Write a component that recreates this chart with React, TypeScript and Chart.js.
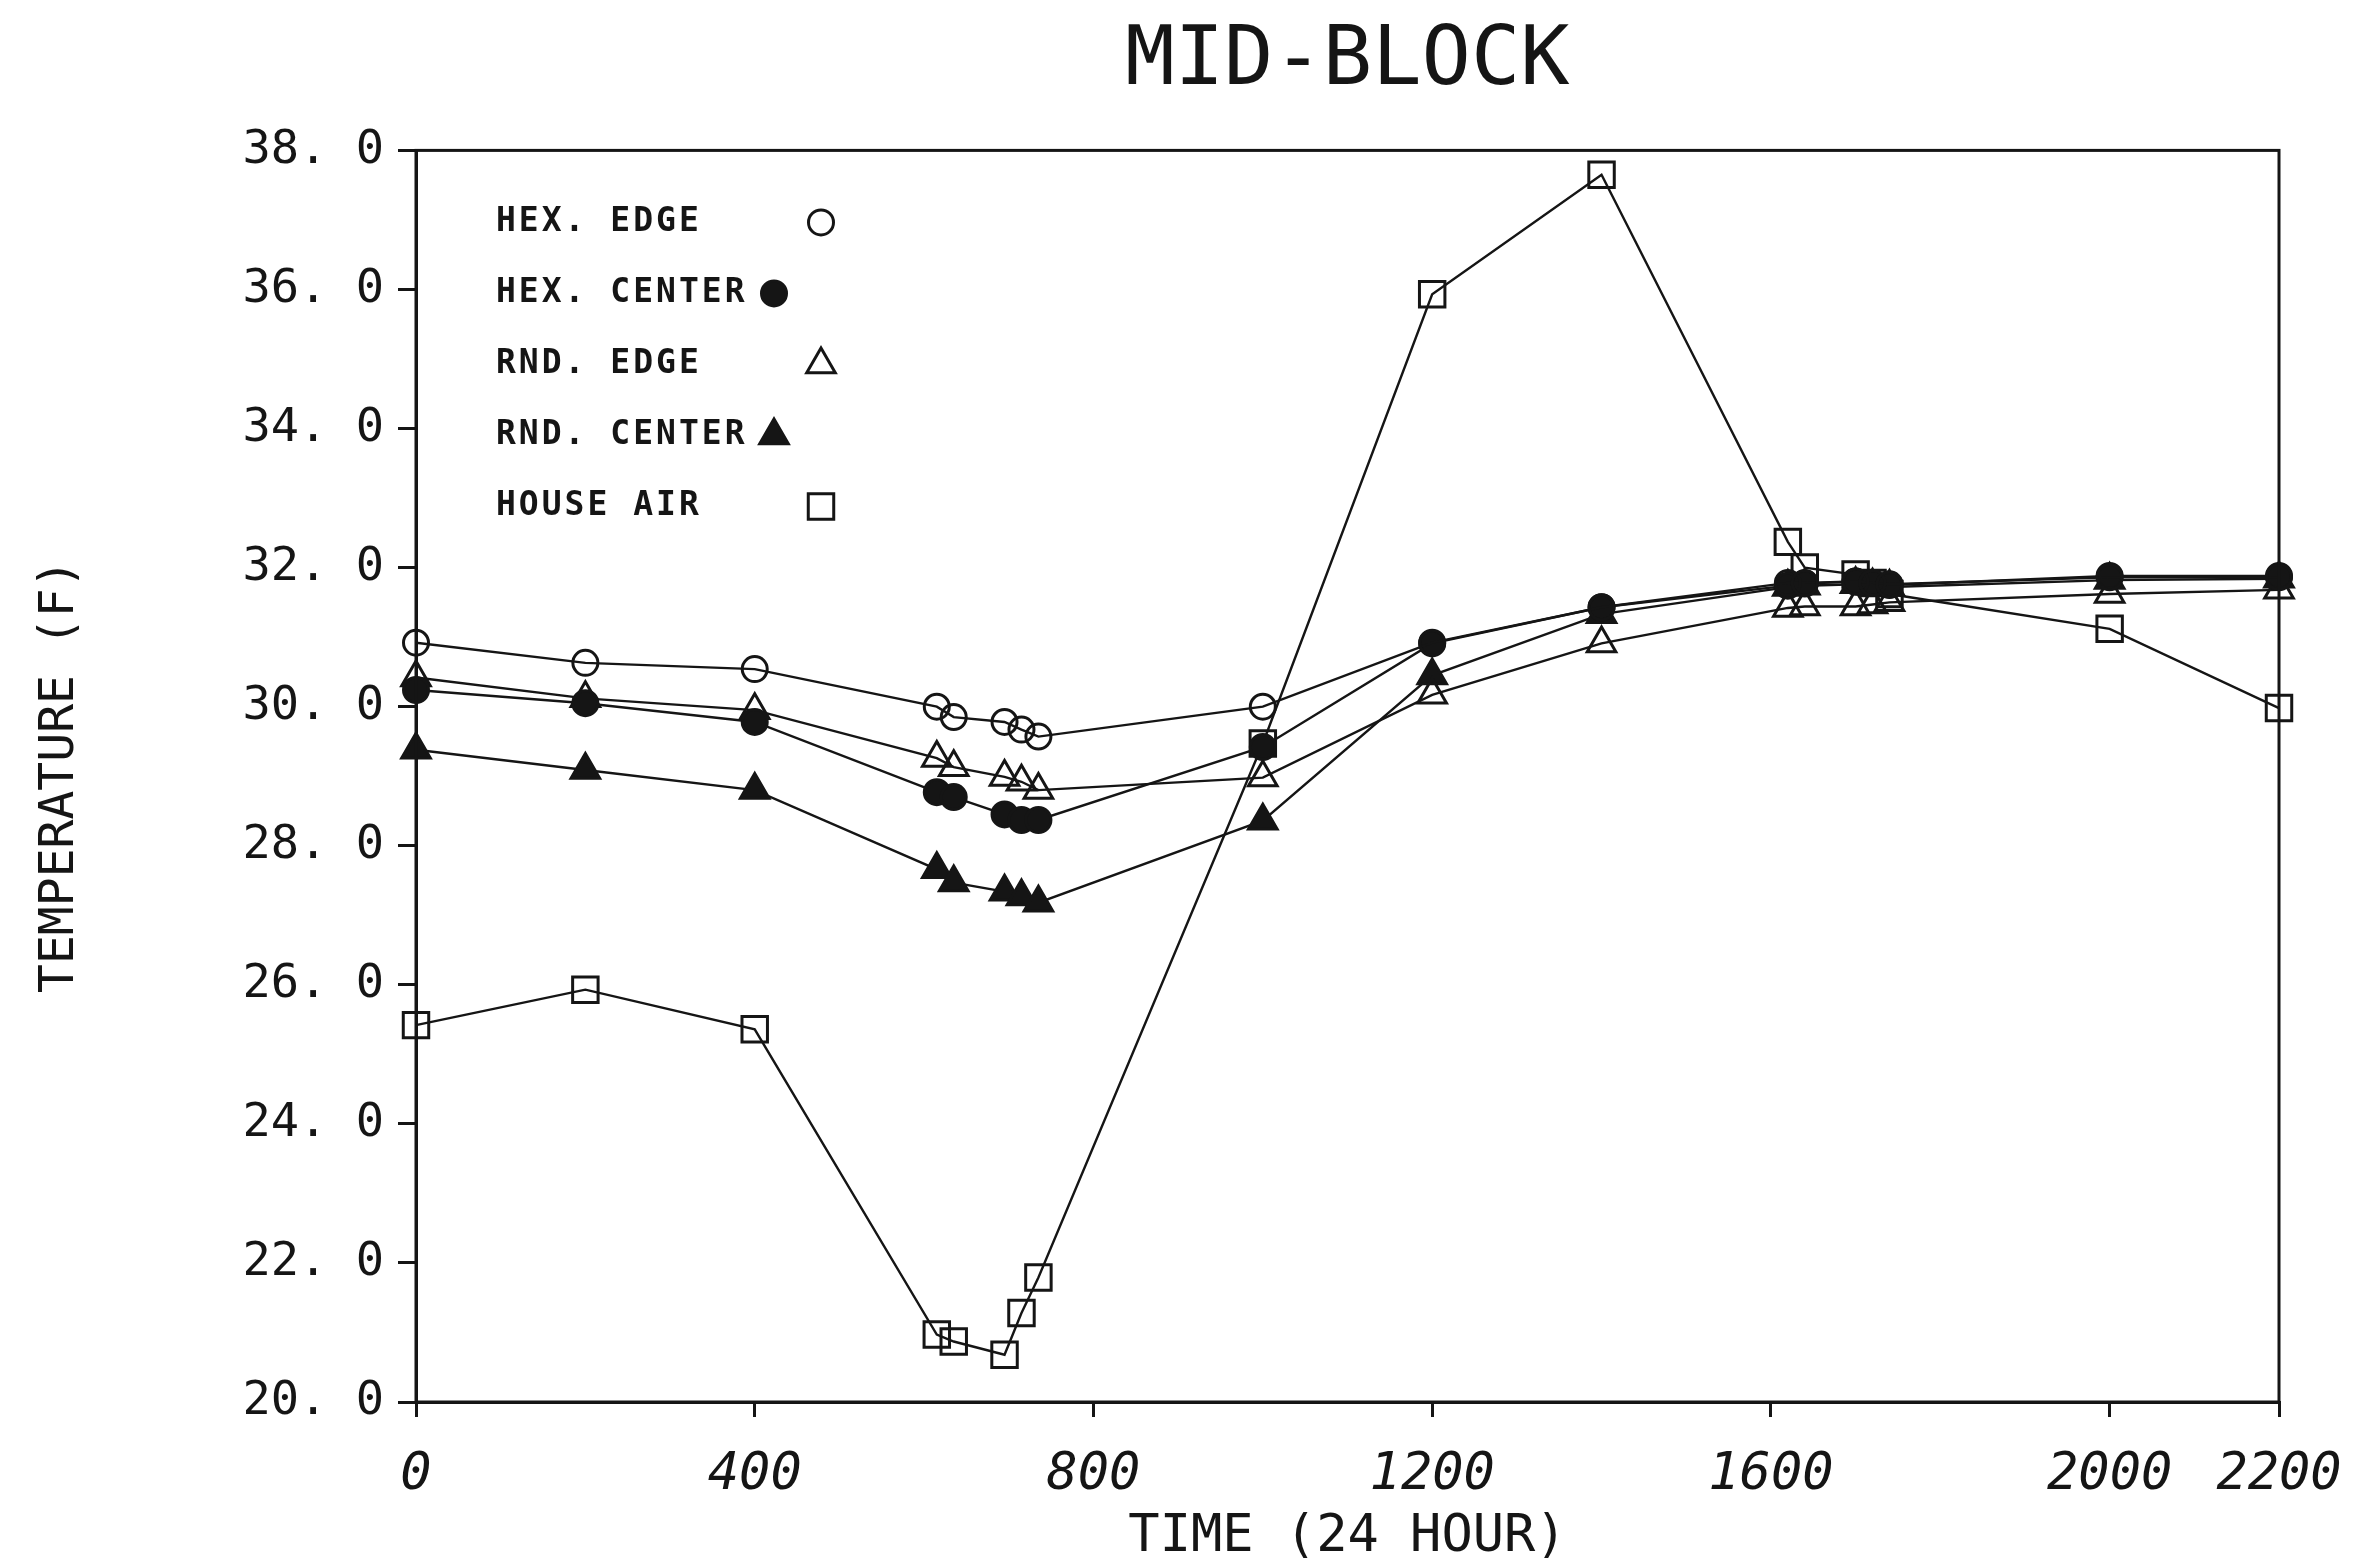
import React, { useEffect, useRef } from 'react';
import { Chart, registerables } from 'chart.js';
Chart.register(...registerables);

// ---- data ----
const times = [0, 200, 400, 615, 635, 695, 715, 735, 1000, 1200, 1400, 1620, 1640, 1700, 1720, 1740, 2000, 2200];
const hexEdge = [30.92, 30.63, 30.54, 30.0, 29.85, 29.78, 29.67, 29.57, 30.0, 30.92, 31.43, 31.78, 31.78, 31.8, 31.78, 31.76, 31.86, 31.86];
const hexCenter = [30.24, 30.05, 29.78, 28.77, 28.7, 28.45, 28.37, 28.37, 29.42, 30.91, 31.43, 31.74, 31.77, 31.8, 31.78, 31.75, 31.88, 31.88];
const rndEdge = [30.42, 30.12, 29.95, 29.26, 29.13, 28.99, 28.92, 28.8, 28.98, 30.17, 30.91, 31.42, 31.44, 31.44, 31.47, 31.5, 31.62, 31.68];
const rndCenter = [29.38, 29.09, 28.8, 27.66, 27.47, 27.34, 27.27, 27.18, 28.36, 30.45, 31.33, 31.72, 31.74, 31.76, 31.74, 31.72, 31.82, 31.84];
const houseAir = [25.42, 25.93, 25.36, 20.97, 20.87, 20.68, 21.28, 21.79, 29.47, 35.93, 37.65, 32.37, 32.0, 31.9, 31.78, 31.62, 31.12, 29.98];

const seriesLabels = ['HEX. EDGE', 'HEX. CENTER', 'RND. EDGE', 'RND. CENTER', 'HOUSE AIR'];
const xTickValues = [0, 400, 800, 1200, 1600, 2000, 2200];
const yMin = 20;
const yMax = 38;
const yStep = 2;
const titleText = 'MID-BLOCK';
const xTitle = 'TIME (24 HOUR)';
const yTitle = 'TEMPERATURE (F)';

const INK = '#151515';
const MONO = '"DejaVu Sans Mono", monospace';

type Marker = { style: 'circle' | 'triangle' | 'rect'; filled: boolean; r: number };
const markers: Marker[] = [
  { style: 'circle', filled: false, r: 12.5 },
  { style: 'circle', filled: true, r: 12.5 },
  { style: 'triangle', filled: false, r: 16.5 },
  { style: 'triangle', filled: true, r: 16.5 },
  { style: 'rect', filled: false, r: 18 },
];
const seriesValues = [hexEdge, hexCenter, rndEdge, rndCenter, houseAir];

function drawMarker(ctx: CanvasRenderingContext2D, m: Marker, x: number, y: number) {
  ctx.save();
  ctx.beginPath();
  if (m.style === 'circle') {
    ctx.arc(x, y, m.r, 0, Math.PI * 2);
  } else if (m.style === 'triangle') {
    for (let k = 0; k < 3; k++) {
      const a = (k * 2 * Math.PI) / 3;
      const px = x + Math.sin(a) * m.r;
      const py = y - Math.cos(a) * m.r;
      if (k === 0) ctx.moveTo(px, py);
      else ctx.lineTo(px, py);
    }
    ctx.closePath();
  } else {
    const s = m.r * Math.SQRT1_2;
    ctx.rect(x - s, y - s, 2 * s, 2 * s);
  }
  ctx.lineWidth = 3;
  ctx.strokeStyle = INK;
  if (m.filled) {
    ctx.fillStyle = INK;
    ctx.fill();
  }
  ctx.stroke();
  ctx.restore();
}

const framePlugin = {
  id: 'frameAndLegend',
  afterDraw(chart: any) {
    const { ctx, chartArea } = chart;
    const { left, top, right, bottom } = chartArea;
    ctx.save();
    ctx.strokeStyle = INK;
    ctx.lineWidth = 3;
    ctx.strokeRect(left, top, right - left, bottom - top);

    // legend inside plot
    ctx.font = `bold 33px ${MONO}`;
    (ctx as any).letterSpacing = '3px';
    ctx.fillStyle = INK;
    ctx.textBaseline = 'middle';
    ctx.textAlign = 'left';
    for (let i = 0; i < seriesLabels.length; i++) {
      const rowY = top + 72 + i * 71;
      ctx.fillText(seriesLabels[i], left + 80, rowY);
      const m = markers[i];
      const mx = m.filled ? left + 358 : left + 405;
      drawMarker(ctx, m, mx, rowY);
    }
    ctx.restore();
  },
};

export default function App() {
  const ref = useRef<HTMLCanvasElement>(null);

  useEffect(() => {
    document.body.style.margin = '0';
    const canvas = ref.current;
    if (!canvas) return;

    const datasets = seriesLabels.map((label, i) => ({
      label,
      data: times.map((t, j) => ({ x: t, y: seriesValues[i][j] })),
      borderColor: INK,
      borderWidth: 2.4,
      tension: 0,
      fill: false,
      clip: false as any,
      pointStyle: markers[i].style,
      pointRadius: markers[i].r,
      pointHoverRadius: markers[i].r,
      pointBorderWidth: 3,
      pointBorderColor: INK,
      pointBackgroundColor: markers[i].filled ? INK : 'rgba(0,0,0,0)',
    }));

    const chart = new Chart(canvas, {
      type: 'line',
      data: { datasets },
      options: {
        responsive: false,
        animation: false,
        layout: { autoPadding: false, padding: { left: 0, right: 78, top: 0, bottom: 0 } } as any,
        plugins: {
          legend: { display: false },
          tooltip: { enabled: false },
          title: {
            display: true,
            text: titleText,
            fullSize: false,
            color: INK,
            font: { family: MONO, size: 82, weight: 'normal' as any, lineHeight: 1.2 },
            padding: { top: 14, bottom: 38 },
          },
        },
        scales: {
          x: {
            type: 'linear',
            min: 0,
            max: 2200,
            afterBuildTicks: (s: any) => {
              s.ticks = xTickValues.map((v) => ({ value: v }));
            },
            afterFit: (s: any) => {
              s.height = 161;
              s.paddingLeft = 0;
              s.paddingRight = 0;
            },
            grid: { display: true, drawOnChartArea: false, drawTicks: true, tickLength: 15, color: INK, lineWidth: 3 },
            border: { display: true, color: INK, width: 3 },
            ticks: {
              color: INK,
              padding: 32,
              maxRotation: 0,
              autoSkip: false,
              font: { family: MONO, size: 52, style: 'italic', lineHeight: 1.0 },
              callback: (v: any) => String(v),
            },
            title: {
              display: true,
              text: xTitle,
              color: INK,
              font: { family: MONO, size: 52, lineHeight: 1.0 },
              padding: { top: 0, bottom: 0 },
            },
          },
          y: {
            type: 'linear',
            min: yMin,
            max: yMax,
            afterFit: (s: any) => {
              s.width = 416;
              s.paddingTop = 0;
              s.paddingBottom = 0;
            },
            grid: { display: true, drawOnChartArea: false, drawTicks: true, tickLength: 18, color: INK, lineWidth: 3 },
            border: { display: true, color: INK, width: 3 },
            ticks: {
              stepSize: yStep,
              color: INK,
              padding: 14,
              font: { family: MONO, size: 47 },
              callback: (v: any) => Number(v).toFixed(1).replace('.', '. '),
            },
            title: {
              display: true,
              text: yTitle,
              color: INK,
              font: { family: MONO, size: 48 },
              padding: { top: 32, bottom: 0 },
            },
          },
        },
      },
      plugins: [framePlugin],
    });

    return () => chart.destroy();
  }, []);

  return (
    <div style={{ position: 'absolute', left: 0, top: 0, width: 2357, height: 1563, background: '#fff' }}>
      <canvas ref={ref} width={2357} height={1563} style={{ display: 'block' }} />
    </div>
  );
}
